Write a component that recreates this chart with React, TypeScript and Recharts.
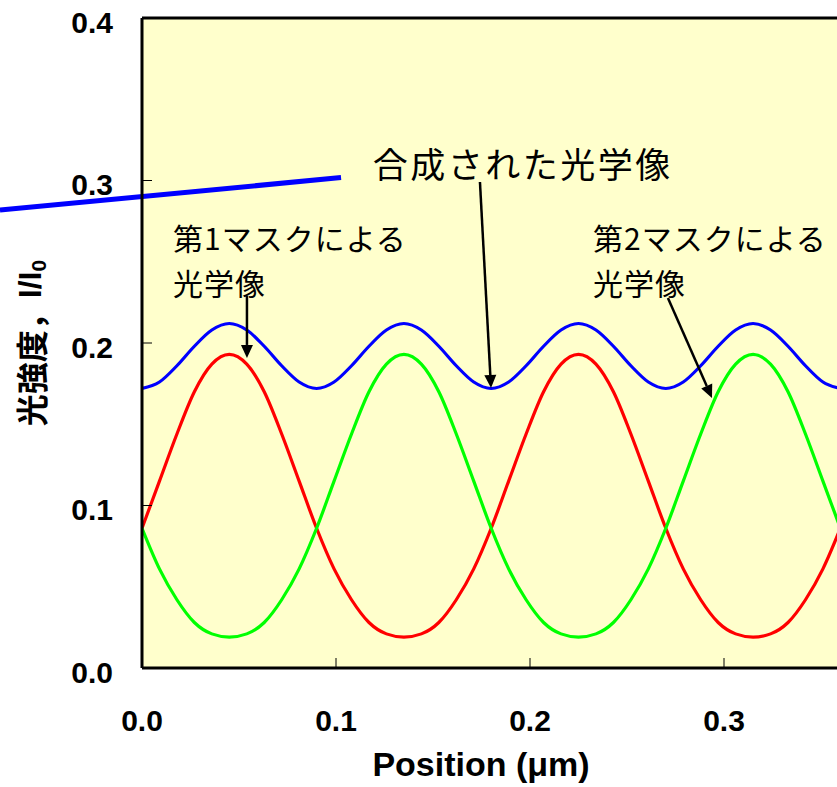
import { LineChart, Line, XAxis, YAxis, CartesianGrid, ReferenceLine, ReferenceDot, Label } from 'recharts'

// Position along the wafer (µm)
const positions = [
  0, 0.009, 0.018, 0.027, 0.036, 0.045, 0.054, 0.063, 0.072, 0.081, 0.09,
  0.099, 0.108, 0.117, 0.126, 0.135, 0.144, 0.153, 0.162, 0.171, 0.18,
  0.189, 0.198, 0.207, 0.216, 0.225, 0.234, 0.243, 0.252, 0.261, 0.27,
  0.279, 0.288, 0.297, 0.306, 0.315, 0.324, 0.333, 0.342, 0.351, 0.36,
]

// image from mask 1 (red)
const mask1 = [
  0.086, 0.115, 0.144, 0.170, 0.187, 0.193, 0.187, 0.170, 0.144, 0.115, 0.086,
  0.061, 0.042, 0.028, 0.021, 0.019, 0.021, 0.028, 0.042, 0.061, 0.086,
  0.115, 0.144, 0.170, 0.187, 0.193, 0.187, 0.170, 0.144, 0.115, 0.086,
  0.061, 0.042, 0.028, 0.021, 0.019, 0.021, 0.028, 0.042, 0.061, 0.086,
]

// image from mask 2 (green)
const mask2 = [
  0.086, 0.061, 0.042, 0.028, 0.021, 0.019, 0.021, 0.028, 0.042, 0.061, 0.086,
  0.115, 0.144, 0.170, 0.187, 0.193, 0.187, 0.170, 0.144, 0.115, 0.086,
  0.061, 0.042, 0.028, 0.021, 0.019, 0.021, 0.028, 0.042, 0.061, 0.086,
  0.115, 0.144, 0.170, 0.187, 0.193, 0.187, 0.170, 0.144, 0.115, 0.086,
]

// combined image (blue)
const combined = [
  0.172, 0.176, 0.186, 0.198, 0.208, 0.212, 0.208, 0.198, 0.186, 0.176, 0.172,
  0.176, 0.186, 0.198, 0.208, 0.212, 0.208, 0.198, 0.186, 0.176, 0.172,
  0.176, 0.186, 0.198, 0.208, 0.212, 0.208, 0.198, 0.186, 0.176, 0.172,
  0.176, 0.186, 0.198, 0.208, 0.212, 0.208, 0.198, 0.186, 0.176, 0.172,
]

const xTicks = [0, 0.1, 0.2, 0.3]
const yTicks = [0, 0.1, 0.2, 0.3, 0.4]

const CJK = "'Noto Sans CJK JP', sans-serif"
const LATIN = "'Liberation Sans', Arial, sans-serif"

const data = positions.map((x, i) => ({
  x,
  mask1: mask1[i],
  mask2: mask2[i],
  combined: combined[i],
}))

function Arrow(props: any) {
  const { x1, y1, x2, y2 } = props
  const ang = Math.atan2(y2 - y1, x2 - x1)
  const len = 13
  const half = 6
  const bx = x2 - len * Math.cos(ang)
  const by = y2 - len * Math.sin(ang)
  const px = -Math.sin(ang) * half
  const py = Math.cos(ang) * half
  return (
    <g>
      <line x1={x1} y1={y1} x2={bx} y2={by} stroke="#000" strokeWidth={2.5} />
      <polygon points={`${x2},${y2} ${bx + px},${by + py} ${bx - px},${by - py}`} fill="#000" />
    </g>
  )
}

function note(lines: string[], size: number, spacing: number, gap: number) {
  return (props: any) => (
    <text x={props.cx} y={props.cy} fontFamily={CJK} fontSize={size} letterSpacing={spacing} fill="#000">
      {lines.map((l, i) => (
        <tspan key={i} x={props.cx} dy={i === 0 ? 0 : gap}>
          {l}
        </tspan>
      ))}
    </text>
  )
}

export default function App() {
  return (
    <div style={{ position: 'absolute', left: 0, top: 0, width: 837, height: 787, overflow: 'hidden', background: '#fff' }}>
      <LineChart width={940} height={787} data={data} margin={{ top: 18, right: 22, left: 0, bottom: 0 }}>
        <CartesianGrid fill="#FFFFCC" horizontal={false} vertical={false} />
        <XAxis
          dataKey="x"
          type="number"
          domain={[0, 0.4]}
          ticks={xTicks}
          allowDataOverflow
          height={119}
          tickFormatter={(v: number) => v.toFixed(1)}
          tickSize={-10}
          tickMargin={52}
          tickLine={{ stroke: '#000', strokeWidth: 1 }}
          axisLine={{ stroke: '#000', strokeWidth: 3 }}
          tick={{ fill: '#000', fontSize: 30, fontWeight: 700, fontFamily: LATIN }}
        >
          <Label
            content={({ viewBox }: any) => (
              <text x={viewBox.x + 339} y={viewBox.y + 108} textAnchor="middle" fontFamily={LATIN} fontWeight={700} fontSize={34} fill="#000">
                Position (μm)
              </text>
            )}
          />
        </XAxis>
        <YAxis
          type="number"
          domain={[0, 0.4]}
          ticks={yTicks}
          allowDataOverflow
          width={142}
          tickFormatter={(v: number) => v.toFixed(1)}
          tickSize={-10}
          tickMargin={39}
          tickLine={{ stroke: '#000', strokeWidth: 1 }}
          axisLine={{ stroke: '#000', strokeWidth: 3 }}
          tick={{ fill: '#000', fontSize: 30, fontWeight: 700, fontFamily: LATIN, dy: 4 }}
        >
          <Label
            content={({ viewBox }: any) => (
              <text
                transform={`translate(${viewBox.x + 30}, ${viewBox.y + viewBox.height / 2}) rotate(-90)`}
                textAnchor="middle"
                dominantBaseline="central"
                fontWeight={700}
                fontSize={32}
                fill="#000"
              >
                <tspan fontFamily={CJK}>光強度，</tspan>
                <tspan fontFamily={LATIN}>I/I</tspan>
                <tspan fontFamily={LATIN} fontSize={21} dy={8}>0</tspan>
              </text>
            )}
          />
        </YAxis>
        <ReferenceLine y={0.4} stroke="#000" strokeWidth={3} />

        <Line type="monotone" dataKey="combined" stroke="#0000FF" strokeWidth={3.2} dot={false} isAnimationActive={false} />
        <Line type="monotone" dataKey="mask1" stroke="#FF0000" strokeWidth={3.2} dot={false} isAnimationActive={false} />
        <Line type="monotone" dataKey="mask2" stroke="#00FF00" strokeWidth={3.2} dot={false} isAnimationActive={false} />

        <ReferenceLine
          segment={[{ x: -0.0732, y: 0.2818 }, { x: 0.1026, y: 0.3018 }]}
          stroke="#0000FF"
          strokeWidth={5}
          ifOverflow="visible"
        />

        <ReferenceLine segment={[{ x: 0.0541, y: 0.2289 }, { x: 0.0541, y: 0.1908 }]} ifOverflow="visible" shape={Arrow} />
        <ReferenceLine segment={[{ x: 0.1742, y: 0.2991 }, { x: 0.1799, y: 0.1723 }]} ifOverflow="visible" shape={Arrow} />
        <ReferenceLine segment={[{ x: 0.2711, y: 0.2277 }, { x: 0.2938, y: 0.1662 }]} ifOverflow="visible" shape={Arrow} />

        <ReferenceDot x={0.119} y={0.3015} r={0} ifOverflow="visible" shape={note(['合成された光学像'], 35, 2.5, 0)} />
        <ReferenceDot x={0.016} y={0.257} r={0} ifOverflow="visible" shape={note(['第1マスクによる', '光学像'], 30, 1, 45)} />
        <ReferenceDot x={0.2325} y={0.257} r={0} ifOverflow="visible" shape={note(['第2マスクによる', '光学像'], 30, 1, 45)} />
      </LineChart>
    </div>
  )
}
